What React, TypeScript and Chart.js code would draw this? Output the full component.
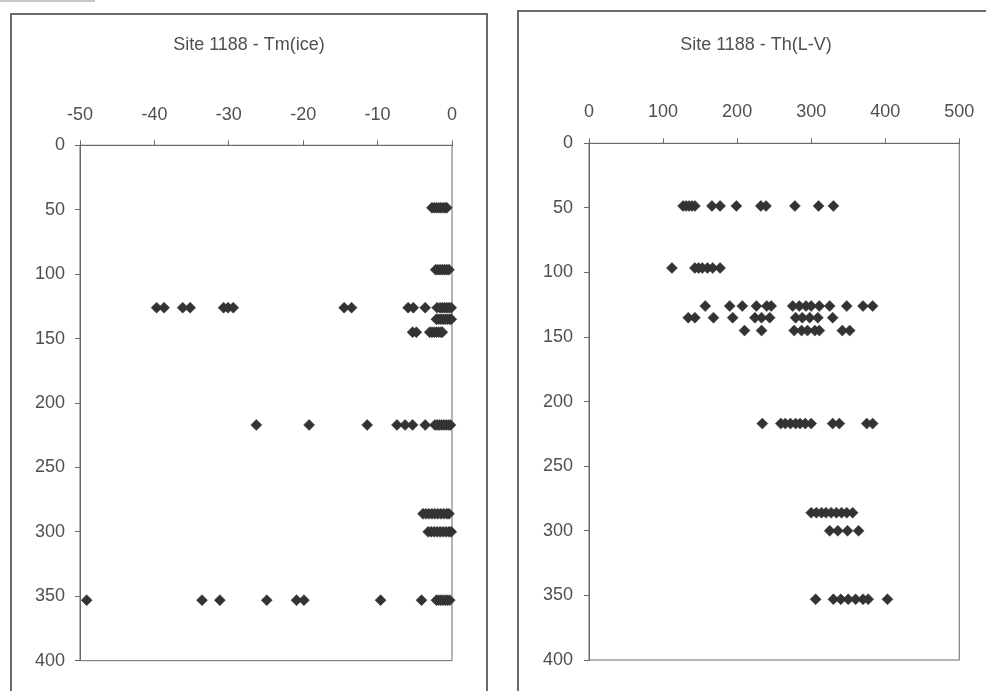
import React, { useEffect, useRef } from "react";
import { Chart, registerables } from "chart.js";

Chart.register(...registerables);

// Depth rows (same depths for both panels)
const depthRows = [48.5, 96.5, 126, 135, 145, 217, 286, 300, 353];

// Site 1188 - Tm(ice) values per depth row
const tmIce48 = [-2.7, -2.4, -2.1, -1.8, -1.5, -1.2, -0.9, -0.7];
const tmIce96 = [-2.2, -1.9, -1.6, -1.3, -1.0, -0.7, -0.4];
const tmIce126 = [-39.7, -38.7, -36.2, -35.2, -30.7, -30.1, -29.4, -14.5, -13.5, -5.9, -5.2, -3.6, -2.0, -1.6, -1.3, -1.0, -0.7, -0.4, -0.1];
const tmIce135 = [-2.1, -1.8, -1.5, -1.2, -0.9, -0.6, -0.3, -0.1];
const tmIce145 = [-5.3, -4.8, -3.0, -2.7, -2.4, -2.1, -1.8, -1.5, -1.3];
const tmIce217 = [-26.3, -19.2, -11.4, -7.4, -6.3, -5.3, -3.6, -2.3, -2.0, -1.7, -1.4, -1.1, -0.8, -0.5, -0.2];
const tmIce286 = [-3.9, -3.5, -3.1, -2.7, -2.3, -1.9, -1.5, -1.1, -0.7, -0.4];
const tmIce300 = [-3.2, -2.8, -2.4, -2.0, -1.6, -1.2, -0.8, -0.4, -0.1];
const tmIce353 = [-49.1, -33.6, -31.2, -24.9, -20.9, -19.9, -9.6, -4.1, -2.1, -1.8, -1.5, -1.2, -0.9, -0.6, -0.3];

// Site 1188 - Th(L-V) values per depth row
const thLV48 = [127, 131, 135, 139, 143, 166, 177, 199, 232, 239, 278, 310, 330];
const thLV96 = [112, 143, 148, 153, 160, 167, 177];
const thLV126 = [157, 190, 207, 226, 240, 246, 275, 284, 293, 300, 311, 325, 348, 370, 383];
const thLV135 = [134, 143, 168, 194, 224, 233, 244, 279, 288, 298, 309, 329];
const thLV145 = [210, 233, 277, 287, 295, 305, 311, 342, 352];
const thLV217 = [234, 259, 265, 272, 279, 285, 292, 300, 329, 338, 375, 383];
const thLV286 = [300, 307, 314, 320, 327, 334, 341, 348, 356];
const thLV300 = [325, 336, 349, 364];
const thLV353 = [306, 330, 340, 350, 360, 370, 377, 403];

const tmIceRows = [tmIce48, tmIce96, tmIce126, tmIce135, tmIce145, tmIce217, tmIce286, tmIce300, tmIce353];
const thLVRows = [thLV48, thLV96, thLV126, thLV135, thLV145, thLV217, thLV286, thLV300, thLV353];

const titles = ["Site 1188 - Tm(ice)", "Site 1188 - Th(L-V)"];
const xRanges = [
  { min: -50, max: 0, step: 10 },
  { min: 0, max: 500, step: 100 },
];
const depthRange = { min: 0, max: 400, step: 50 };

const FONT = "'Liberation Sans', Arial, Helvetica, sans-serif";
const TEXT = "#505050";
const LINE = "#6a6a6a";
const MARK = "#333333";

const framePlugin = {
  id: "frame",
  beforeDatasetsDraw(chart: any) {
    const { ctx, chartArea: a } = chart;
    ctx.save();
    ctx.strokeStyle = LINE;
    ctx.lineWidth = 1;
    ctx.strokeRect(a.left, a.top, a.right - a.left, a.bottom - a.top);
    ctx.restore();
  },
};

type Layout = {
  w: number;
  h: number;
  padL: number;
  padR: number;
  padT: number;
  padB: number;
  yW: number;
  rW: number;
  xH: number;
  titleT: number;
  titleB: number;
  xTickPad: number;
  yTickPad: number;
};

function Panel({ idx, rows, layout }: { idx: number; rows: number[][]; layout: Layout }) {
  const ref = useRef<HTMLCanvasElement | null>(null);
  useEffect(() => {
    if (!ref.current) return;
    const points = rows.flatMap((xs, i) => xs.map((x) => ({ x, y: depthRows[i] })));
    const xr = xRanges[idx];
    const chart = new Chart(ref.current, {
      type: "scatter",
      data: {
        datasets: [
          {
            data: points,
            pointStyle: "rectRot",
            pointRadius: 5.5,
            pointBackgroundColor: MARK,
            pointBorderColor: MARK,
            pointBorderWidth: 0.5,
            showLine: false,
            clip: false as any,
          },
        ],
      },
      options: {
        animation: false,
        responsive: false,
        devicePixelRatio: 1,
        layout: { padding: { left: layout.padL, right: layout.padR, top: layout.padT, bottom: layout.padB } },
        plugins: {
          legend: { display: false },
          tooltip: { enabled: false },
          title: {
            display: true,
            text: titles[idx],
            color: TEXT,
            font: { family: FONT, size: 18, weight: "normal" as any },
            padding: { top: layout.titleT, bottom: layout.titleB },
          },
        },
        scales: {
          x: {
            type: "linear",
            position: "top",
            min: xr.min,
            max: xr.max,
            afterFit: (s: any) => {
              s.height = layout.xH;
            },
            ticks: {
              stepSize: xr.step,
              color: TEXT,
              padding: layout.xTickPad,
              font: { family: FONT, size: 18 },
              maxRotation: 0,
              autoSkip: false,
            },
            grid: { drawOnChartArea: false, drawTicks: true, tickLength: 5, color: LINE },
            border: { display: true, color: LINE },
          },
          y: {
            type: "linear",
            position: "left",
            reverse: true,
            min: depthRange.min,
            max: depthRange.max,
            afterFit: (s: any) => {
              s.width = layout.yW;
            },
            ticks: {
              stepSize: depthRange.step,
              color: TEXT,
              padding: layout.yTickPad,
              font: { family: FONT, size: 18 },
              autoSkip: false,
            },
            grid: { drawOnChartArea: false, drawTicks: true, tickLength: 5, color: LINE },
            border: { display: true, color: LINE },
          },
          yRight: {
            type: "linear",
            position: "right",
            display: true,
            min: depthRange.min,
            max: depthRange.max,
            afterFit: (s: any) => {
              s.width = layout.rW;
            },
            ticks: { display: false },
            grid: { display: false, drawTicks: false },
            border: { display: false },
          },
        },
      },
      plugins: [framePlugin],
    });
    return () => chart.destroy();
  }, []);
  return <canvas ref={ref} width={layout.w} height={layout.h} style={{ width: layout.w, height: layout.h, display: "block" }} />;
}

const leftLayout: Layout = {
  w: 476, h: 677, padL: 15, padR: 15, padT: 6, padB: 30.3, yW: 54, rW: 20, xH: 40,
  titleT: 14.2, titleB: 49.5, xTickPad: 14.5, yTickPad: 10,
};
const rightLayout: Layout = {
  w: 476, h: 680, padL: 15, padR: 15, padT: 6, padB: 31, yW: 56, rW: 19.7, xH: 40,
  titleT: 17.2, titleB: 47.5, xTickPad: 15, yTickPad: 11,
};

export default function App() {
  return (
    <div style={{ position: "fixed", left: 0, top: 0, width: 986, height: 691, overflow: "hidden", background: "#fff" }}>
      <div style={{ position: "absolute", left: 0, top: 0, width: 95, height: 2, background: "#c8c8c8" }} />
      <div style={{ position: "absolute", left: 11, top: 14 }}>
        <Panel idx={0} rows={tmIceRows} layout={leftLayout} />
      </div>
      <div
        style={{
          position: "absolute", left: 10, top: 13, width: 478, height: 720,
          border: "2px solid #6a6a6a", boxSizing: "border-box", pointerEvents: "none",
        }}
      />
      <div style={{ position: "absolute", left: 518, top: 11 }}>
        <Panel idx={1} rows={thLVRows} layout={rightLayout} />
      </div>
      <div
        style={{
          position: "absolute", left: 517, top: 10, width: 478, height: 720,
          border: "2px solid #6a6a6a", boxSizing: "border-box", pointerEvents: "none",
        }}
      />
    </div>
  );
}
